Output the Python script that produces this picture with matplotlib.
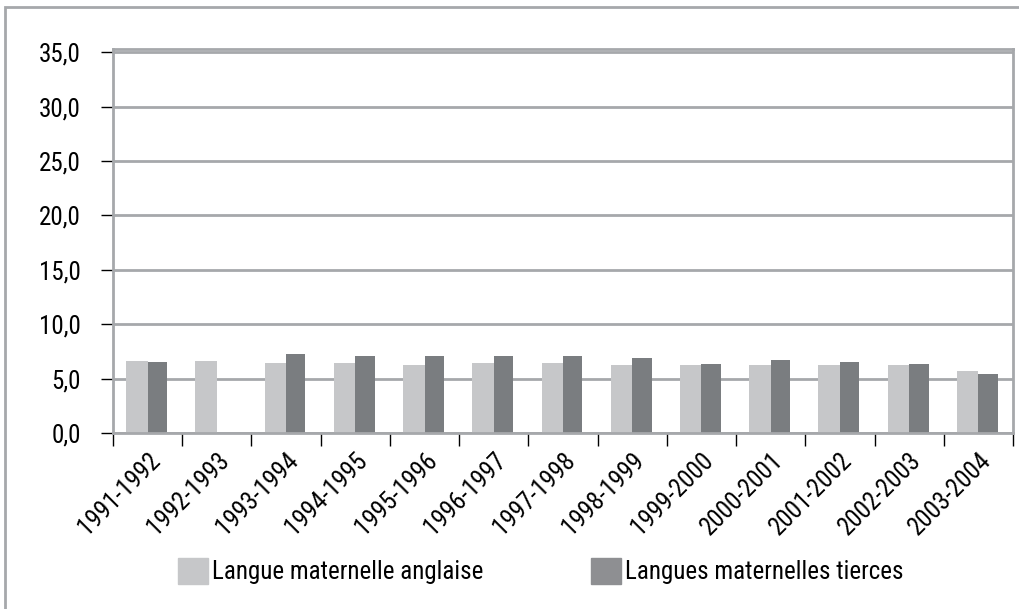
import numpy as np
import matplotlib.pyplot as plt
from matplotlib.patches import Patch, Rectangle
from matplotlib.ticker import FuncFormatter

plt.rcParams['font.family'] = ['Roboto Condensed', 'Liberation Sans', 'DejaVu Sans']

years = ['1991-1992', '1992-1993', '1993-1994', '1994-1995', '1995-1996',
         '1996-1997', '1997-1998', '1998-1999', '1999-2000', '2000-2001',
         '2001-2002', '2002-2003', '2003-2004']
anglaise = [6.6, 6.6, 6.4, 6.4, 6.25, 6.4, 6.4, 6.25, 6.25, 6.25, 6.25, 6.25, 5.7]
tierces = [6.5, np.nan, 7.3, 7.1, 7.1, 7.1, 7.1, 6.9, 6.35, 6.75, 6.55, 6.35, 5.4]

light = '#c6c7c9'
dark = '#7a7d80'
legend_dark = '#8e8f92'
grey = '#a6a8ab'

fig = plt.figure(figsize=(10.2, 6.09), dpi=100)
ax = fig.add_axes([113 / 1020, 1 - 433 / 609, 900 / 1020, 384 / 609])

x = np.arange(len(years))
ax.bar(x - 0.31, anglaise, width=0.31, align='edge', color=light, zorder=3)
ax.bar(x, tierces, width=0.28, align='edge', color=dark, zorder=3)

ax.set_xlim(-0.5, len(years) - 0.5)
ax.set_ylim(0, 35.3)
ax.set_yticks(np.arange(0, 36, 5))
ax.yaxis.set_major_formatter(FuncFormatter(lambda v, p: f'{v:.1f}'.replace('.', ',')))
ax.grid(axis='y', color=grey, linewidth=2, zorder=0)

# labels under the bars, small ticks between the groups
ax.set_xticks(x)
ax.set_xticklabels(years, rotation=45, ha='right', va='top', rotation_mode='anchor')
ax.set_xticks(np.arange(-0.5, len(years), 1), minor=True)
ax.tick_params(axis='x', which='major', length=0, pad=11, labelsize=18)
ax.tick_params(axis='x', which='minor', length=9, width=1, color='black', direction='out')
ax.tick_params(axis='y', length=9, width=1, color='black', labelsize=18, pad=14)

for s in ax.spines.values():
    s.set_color(grey)
    s.set_linewidth(2)
    s.set_zorder(4)

handles = [Patch(color=light, label='Langue maternelle anglaise'),
           Patch(color=legend_dark, label='Langues maternelles tierces')]
fig.legend(handles=handles, loc='center', bbox_to_anchor=(541 / 1020, 1 - 571 / 609),
           ncol=2, frameon=False, fontsize=18, handlelength=1.2, handleheight=1.2,
           handletextpad=0.16, columnspacing=4.3)

# outer frame, cut off on the right and bottom like the original
fig.add_artist(Rectangle((5 / 1020, -0.1), 1.2, 1.1 - 7 / 609, transform=fig.transFigure,
                         fill=False, edgecolor=grey, linewidth=2))

fig.savefig('out.png', dpi=100)
